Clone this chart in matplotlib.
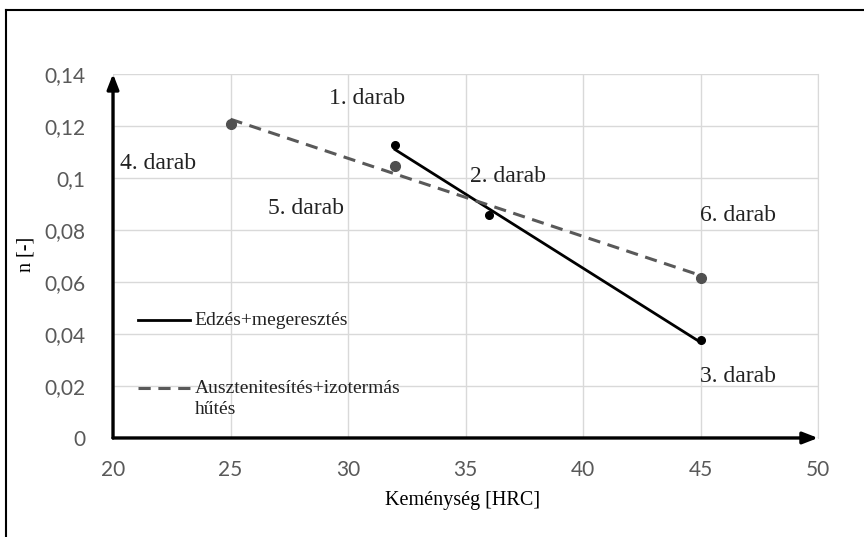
import matplotlib

matplotlib.use("Agg")  # No display
import matplotlib.pyplot as plt  # Plotting
import numpy as np  # Trend lines
from matplotlib.lines import Line2D  # Frame lines

# Data
series_names = ["Edzés+megeresztés", "Ausztenitesítés+izotermás\nhűtés"]
hardness_quench = [32, 36, 45]  # HRC, solid series
n_quench = [0.1125, 0.0858, 0.0375]
hardness_austemper = [25, 32, 45]  # HRC, dashed series
n_austemper = [0.1207, 0.1044, 0.0615]
point_labels = ["1. darab", "2. darab", "3. darab", "4. darab", "5. darab", "6. darab"]
x_ticks = [20, 25, 30, 35, 40, 45, 50]
y_ticks = [0, 0.02, 0.04, 0.06, 0.08, 0.1, 0.12, 0.14]
y_tick_labels = ["0", "0,02", "0,04", "0,06", "0,08", "0,1", "0,12", "0,14"]

# Label placement (data coordinates)
label_pos = [(30.8, 0.1307), (36.8, 0.1005), (46.6, 0.0236),
             (21.9, 0.1056), (28.2, 0.0882), (46.6, 0.0855)]

SERIF = "Liberation Serif"
SANS = "Lato"

fig = plt.figure(figsize=(8.64, 5.37), dpi=100)
ax = fig.add_axes([0.1308, 0.1844, 0.816, 0.678])

ax.set_xlim(20, 50)
ax.set_ylim(0, 0.14)
ax.set_xticks(x_ticks)
ax.set_yticks(y_ticks)
ax.set_xticklabels([str(t) for t in x_ticks], fontfamily=SANS, fontsize=15, color="#595959")
ax.set_yticklabels(y_tick_labels, fontfamily=SANS, fontsize=15, color="#595959")
ax.tick_params(length=0)
ax.tick_params(axis="y", pad=20)
ax.tick_params(axis="x", pad=16)
ax.grid(True, color="#d9d9d9", lw=1)
ax.set_axisbelow(True)
for side in ["left", "bottom", "top"]:
    ax.spines[side].set_visible(False)
ax.spines["right"].set_color("#d9d9d9")

# Axes with arrow heads
arrow = dict(arrowstyle="-|>,head_length=0.9,head_width=0.35", lw=2.4, color="black",
             shrinkA=0, shrinkB=0)
ax.annotate("", xy=(50, 0), xytext=(20, 0), arrowprops=arrow, annotation_clip=False)
ax.annotate("", xy=(20, 0.14), xytext=(20, 0), arrowprops=arrow, annotation_clip=False)

# Solid series: markers + linear trend line
fit_q = np.polyfit(hardness_quench, n_quench, 1)
xq = np.array([min(hardness_quench), max(hardness_quench)])
ax.plot(xq, np.polyval(fit_q, xq), color="black", lw=2, zorder=3)
ax.plot(hardness_quench, n_quench, "o", color="black", ms=5.5, zorder=4)

# Dashed series: markers + linear trend line
dash = (0, (4, 2.5))
fit_a = np.polyfit(hardness_austemper, n_austemper, 1)
xa = np.array([min(hardness_austemper), max(hardness_austemper)])
ax.plot(xa, np.polyval(fit_a, xa), color="#595959", lw=2.2, ls=dash, zorder=3)
ax.plot(hardness_austemper, n_austemper, "o", color="#505050", ms=7, zorder=4)

for text, (lx, ly) in zip(point_labels, label_pos):
    ax.text(lx, ly, text, fontfamily=SERIF, fontsize=17, color="#222222",
            ha="center", va="center")

ax.set_xlabel("Keménység [HRC]", fontfamily=SERIF, fontsize=14.5)
ax.xaxis.set_label_coords(0.496, -0.145)
ax.set_ylabel("n [-]", fontfamily=SERIF, fontsize=14.5)
ax.yaxis.set_label_coords(-0.11, 0.503)

# Legend drawn inside the plot, handle level with the first text line
legend_styles = [dict(color="black", lw=2), dict(color="#595959", lw=2.2, ls=dash)]
legend_y = [0.324, 0.137]
for name, style, ly in zip(series_names, legend_styles, legend_y):
    ax.plot([0.035, 0.109], [ly, ly], transform=ax.transAxes, clip_on=False, **style)
    if "\n" in name:
        ax.text(0.116, ly + 0.022, name, transform=ax.transAxes, fontfamily=SERIF,
                fontsize=14, color="#222222", ha="left", va="top", linespacing=1.3)
    else:
        ax.text(0.116, ly, name, transform=ax.transAxes, fontfamily=SERIF,
                fontsize=14, color="#222222", ha="left", va="center")

# Outer frame (left and top edges visible)
fig.add_artist(Line2D([0.0069, 0.0069], [0, 0.9814], color="black", lw=1.5))
fig.add_artist(Line2D([0.0069, 1], [0.9814, 0.9814], color="black", lw=1.5))

fig.savefig("out.png", dpi=100)
